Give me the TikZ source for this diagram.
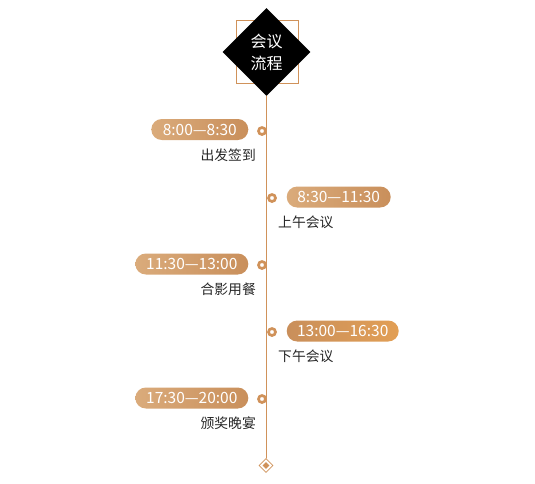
\documentclass[tikz,border=0pt]{standalone}
\usepackage{fontspec}
\setmainfont{Carlito}
\newfontfamily\cjk{Noto Sans CJK SC}
\usepackage{tkz-euclide}
\usetikzlibrary{calc,positioning,shapes.geometric}
\definecolor{LineClr}{HTML}{D0925A}
\definecolor{PillLight}{HTML}{DAAB7B}
\definecolor{PillDark}{HTML}{C98F5B}
\definecolor{PillOrange}{HTML}{E29F55}

\tikzset{
  pill/.style={rounded corners=10.5pt,minimum height=21pt,inner xsep=0pt,inner ysep=0pt,
    text=white,font=\cjk\fontsize{15.5}{16}\selectfont},
  pillL/.style={pill,anchor=east,left color=PillLight,right color=PillDark},
  pillR/.style={pill,anchor=west,left color=PillLight,right color=PillDark},
  event/.style={font=\cjk\fontsize{13.8}{14}\selectfont,text=black!85,inner sep=0pt},
  ring/.style={circle,draw=LineClr,line width=2.7pt,fill=white,minimum size=7pt,inner sep=0pt}
}

\begin{document}
\begin{tikzpicture}[x=1pt,y=-1pt]
\useasboundingbox (0,0) rectangle (535,483);

\tkzDefPoint(266.5,52){T}
\tkzDefPoint(266,96){S}
\tkzDefPoint(266,458){E}
\tkzDefPoint(266,465.5){Z}

% frame and title
\draw[LineClr,line width=0.8pt] (236,20) rectangle (298,83);
\node[diamond,fill=black,minimum width=88pt,minimum height=88pt,inner sep=0pt] (title) at (T) {};
\node[font=\cjk\fontsize{16}{22}\selectfont,text=white,align=center] at (T) {会议\\流程};

\tkzDrawSegments[line width=1pt,color=LineClr](S,E)

% end mark
\node[diamond,draw=LineClr,fill=white,line width=0.8pt,minimum width=14pt,minimum height=14pt,inner sep=0pt] (end) at (Z) {};
\node[diamond,fill=LineClr,minimum width=7pt,minimum height=7pt,inner sep=0pt] at (Z) {};

% timeline
\node[ring] (r1) at (262,131) {};
\node[ring] (r2) at (272,198) {};
\node[ring] (r3) at (262,265) {};
\node[ring] (r4) at (272,332) {};
\node[ring] (r5) at (262,399) {};

\node[pillL,minimum width=97pt] (p1) at (248.5,129.5) {8:00—8:30};
\node[pillR,minimum width=104pt] (p2) at (286.5,197) {8:30—11:30};
\node[pillL,minimum width=113pt] (p3) at (248.5,264) {11:30—13:00};
\node[pillR,minimum width=112pt,left color=PillDark,right color=PillOrange] (p4) at (286.5,331) {13:00—16:30};
\node[pillL,minimum width=113pt] (p5) at (248.5,398) {17:30—20:00};

\node[event,anchor=east] (e1) at (256,155) {出发签到};
\node[event,anchor=west] (e2) at (278,222.5) {上午会议};
\node[event,anchor=east] (e3) at (256,289) {合影用餐};
\node[event,anchor=west] (e4) at (278,356.5) {下午会议};
\node[event,anchor=east] (e5) at (256,423) {颁奖晚宴};

\end{tikzpicture}
\end{document}
